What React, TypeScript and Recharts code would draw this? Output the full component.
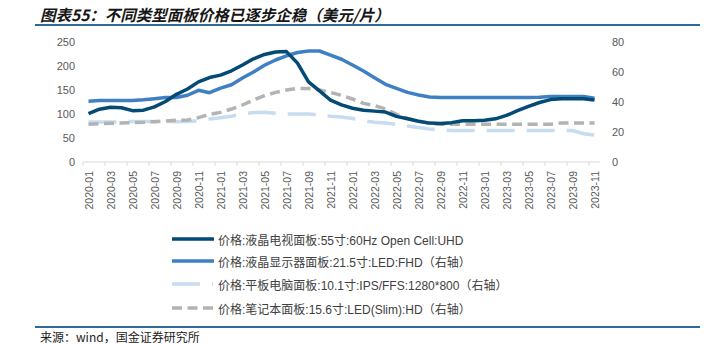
import React from 'react';
import { ComposedChart, Line, XAxis, YAxis } from 'recharts';

// 月份（类目轴）
const months = [
  '2020-01', '2020-02', '2020-03', '2020-04', '2020-05', '2020-06', '2020-07', '2020-08', '2020-09', '2020-10', '2020-11', '2020-12',
  '2021-01', '2021-02', '2021-03', '2021-04', '2021-05', '2021-06', '2021-07', '2021-08', '2021-09', '2021-10', '2021-11', '2021-12',
  '2022-01', '2022-02', '2022-03', '2022-04', '2022-05', '2022-06', '2022-07', '2022-08', '2022-09', '2022-10', '2022-11', '2022-12',
  '2023-01', '2023-02', '2023-03', '2023-04', '2023-05', '2023-06', '2023-07', '2023-08', '2023-09', '2023-10', '2023-11',
];

// 液晶电视面板 55寸（左轴）
const tvPanel55 = [
  101, 110, 114, 113, 107, 108, 115, 126, 141, 152, 167, 176,
  181, 190, 202, 215, 224, 229, 230, 206, 167, 148, 129, 119,
  112, 108, 106, 104, 95, 90, 85, 81, 80, 82, 86, 86,
  87, 90, 97, 107, 116, 124, 130, 132, 132, 132, 129,
];

// 液晶显示器面板 21.5寸（右轴）
const monitor215 = [
  40.5, 41, 41, 41, 41, 41.5, 42.2, 43, 43, 44.5, 47.8, 46.2,
  49.2, 51.5, 56, 60, 64.5, 68, 70.8, 73, 74, 74, 71.3, 68.5,
  64.7, 60.7, 56.2, 51.8, 49.1, 46.4, 44.7, 43.3, 43, 43, 43, 43,
  43, 43, 43, 43, 43, 43.2, 43.7, 43.7, 43.7, 43.7, 42.5,
];

// 平板电脑面板 10.1寸（右轴）
const tablet101 = [
  26.6, 26.6, 26.6, 26.8, 27, 27, 27, 27, 26.8, 27, 27.5, 28.7,
  29.5, 30.5, 32, 33, 33.2, 32.5, 32, 32, 32, 31.5, 30.5, 30,
  29, 27.5, 26.5, 26, 25, 24, 23, 22, 21.5, 21, 21, 21,
  21, 21, 21, 21, 21, 21, 21, 21, 21, 18.8, 18,
];

// 笔记本面板 15.6寸（右轴）
const notebook156 = [
  25.2, 25.5, 25.8, 26, 26.3, 26.5, 26.9, 27.3, 27.8, 28, 29.6, 31.8,
  33.1, 35.3, 38, 41.3, 44.2, 46.4, 48, 49, 49, 48, 46.4, 44.5,
  42, 39.1, 37.6, 35.3, 31.8, 29.1, 27.3, 25.8, 25.1, 25.1, 25.1, 25.1,
  25.1, 25.1, 25.1, 25.1, 25.1, 25.1, 25.1, 26, 26, 26, 26,
];

const leftTicks = [0, 50, 100, 150, 200, 250];
const rightTicks = [0, 10, 20, 30, 40, 50, 60, 70, 80];

const seriesNames = [
  '价格:液晶电视面板:55寸:60Hz Open Cell:UHD',
  '价格:液晶显示器面板:21.5寸:LED:FHD（右轴）',
  '价格:平板电脑面板:10.1寸:IPS/FFS:1280*800（右轴）',
  '价格:笔记本面板:15.6寸:LED(Slim):HD（右轴）',
];

const COLORS = {
  tv: '#034a75',
  monitor: '#3f80c2',
  tablet: '#c8dcf0',
  notebook: '#b3b3b3',
  axisText: '#595959',
  rule: '#2f6a96',
};

const FONT = '"Liberation Sans", Arial, "Noto Sans CJK SC", sans-serif';

const data = months.map((month, i) => ({
  month,
  tv: tvPanel55[i],
  monitor: monitor215[i],
  tablet: tablet101[i],
  notebook: notebook156[i],
}));

function MonthTick(props: any) {
  const { x, y, payload } = props;
  return (
    <g>
      <line x1={x - 5.5} x2={x - 5.5} y1={y} y2={y + 4} stroke="#d9d9d9" />
      <text
        x={0}
        y={0}
        transform={`translate(${x + 4.5},${y + 9}) rotate(-90)`}
        textAnchor="end"
        fontSize={10.5}
        fontFamily={FONT}
        fill={COLORS.axisText}
      >
        {payload.value}
      </text>
    </g>
  );
}

function LegendRow({ idx, top }: { idx: number; top: number }) {
  const sample = [
    <line key="a" x1={0} x2={41} y1={5} y2={5} stroke={COLORS.tv} strokeWidth={3.5} strokeLinecap="round" />,
    <line key="b" x1={0} x2={41} y1={5} y2={5} stroke={COLORS.monitor} strokeWidth={3.5} strokeLinecap="round" />,
    <line key="c" x1={0} x2={41} y1={5} y2={5} stroke={COLORS.tablet} strokeWidth={3.5} strokeDasharray="28 12" />,
    <line key="d" x1={0} x2={41} y1={5} y2={5} stroke={COLORS.notebook} strokeWidth={3.5} strokeDasharray="10 5.5" />,
  ][idx];
  return (
    <div style={{ position: 'absolute', left: 172, top, height: 14, display: 'flex', alignItems: 'center' }}>
      <svg width={42} height={10} style={{ display: 'block' }}>{sample}</svg>
      <span style={{ marginLeft: 4, fontSize: 12, fontFamily: FONT, color: '#404040', whiteSpace: 'nowrap' }}>
        {seriesNames[idx]}
      </span>
    </div>
  );
}

export default function App() {
  return (
    <div style={{ position: 'absolute', left: 0, top: 0, width: 716, height: 344, background: '#fff', overflow: 'hidden' }}>
      <div
        style={{
          position: 'absolute', left: 40, top: 3, fontSize: 15.5, fontWeight: 'bold', fontStyle: 'italic',
          fontFamily: '"Noto Sans CJK SC", sans-serif', color: '#161616', whiteSpace: 'nowrap',
        }}
      >
        图表55：不同类型面板价格已逐步企稳（美元/片）
      </div>
      <div style={{ position: 'absolute', left: 35, top: 24, width: 665, height: 2, background: COLORS.rule }} />

      <ComposedChart width={716} height={344} data={data} margin={{ top: 42, right: 0, left: 0, bottom: 152 }}>
        <XAxis
          dataKey="month"
          scale="band"
          interval={1}
          height={30}
          tickSize={0}
          tickMargin={0}
          tickLine={false}
          axisLine={{ stroke: '#d9d9d9' }}
          tick={<MonthTick />}
        />
        <YAxis
          yAxisId="left"
          width={83}
          domain={[0, 250]}
          ticks={leftTicks}
          axisLine={false}
          tickLine={false}
          tickSize={0}
          tickMargin={8}
          tick={{ fontSize: 11, fill: COLORS.axisText, fontFamily: FONT }}
        />
        <YAxis
          yAxisId="right"
          orientation="right"
          width={116}
          domain={[0, 80]}
          ticks={rightTicks}
          axisLine={false}
          tickLine={false}
          tickSize={0}
          tickMargin={12}
          tick={{ fontSize: 11, fill: COLORS.axisText, fontFamily: FONT, textAnchor: 'start' }}
        />
        <Line yAxisId="right" dataKey="tablet" stroke={COLORS.tablet} strokeWidth={3.5} strokeDasharray="28 12"
          dot={false} type="linear" isAnimationActive={false} />
        <Line yAxisId="right" dataKey="notebook" stroke={COLORS.notebook} strokeWidth={3.5} strokeDasharray="10 5.5"
          dot={false} type="linear" isAnimationActive={false} />
        <Line yAxisId="right" dataKey="monitor" stroke={COLORS.monitor} strokeWidth={3.5} strokeLinejoin="round"
          dot={false} type="linear" isAnimationActive={false} />
        <Line yAxisId="left" dataKey="tv" stroke={COLORS.tv} strokeWidth={3.5} strokeLinejoin="round"
          dot={false} type="linear" isAnimationActive={false} />
      </ComposedChart>

      <LegendRow idx={0} top={232} />
      <LegendRow idx={1} top={254} />
      <LegendRow idx={2} top={277} />
      <LegendRow idx={3} top={301} />

      <div style={{ position: 'absolute', left: 35, top: 326, width: 665, height: 1.5, background: COLORS.rule }} />
      <div
        style={{
          position: 'absolute', left: 40, top: 331, fontSize: 12, lineHeight: '12px', fontFamily: '"Noto Sans CJK SC", serif',
          color: '#222', whiteSpace: 'nowrap',
        }}
      >
        来源：wind，国金证券研究所
      </div>
    </div>
  );
}
